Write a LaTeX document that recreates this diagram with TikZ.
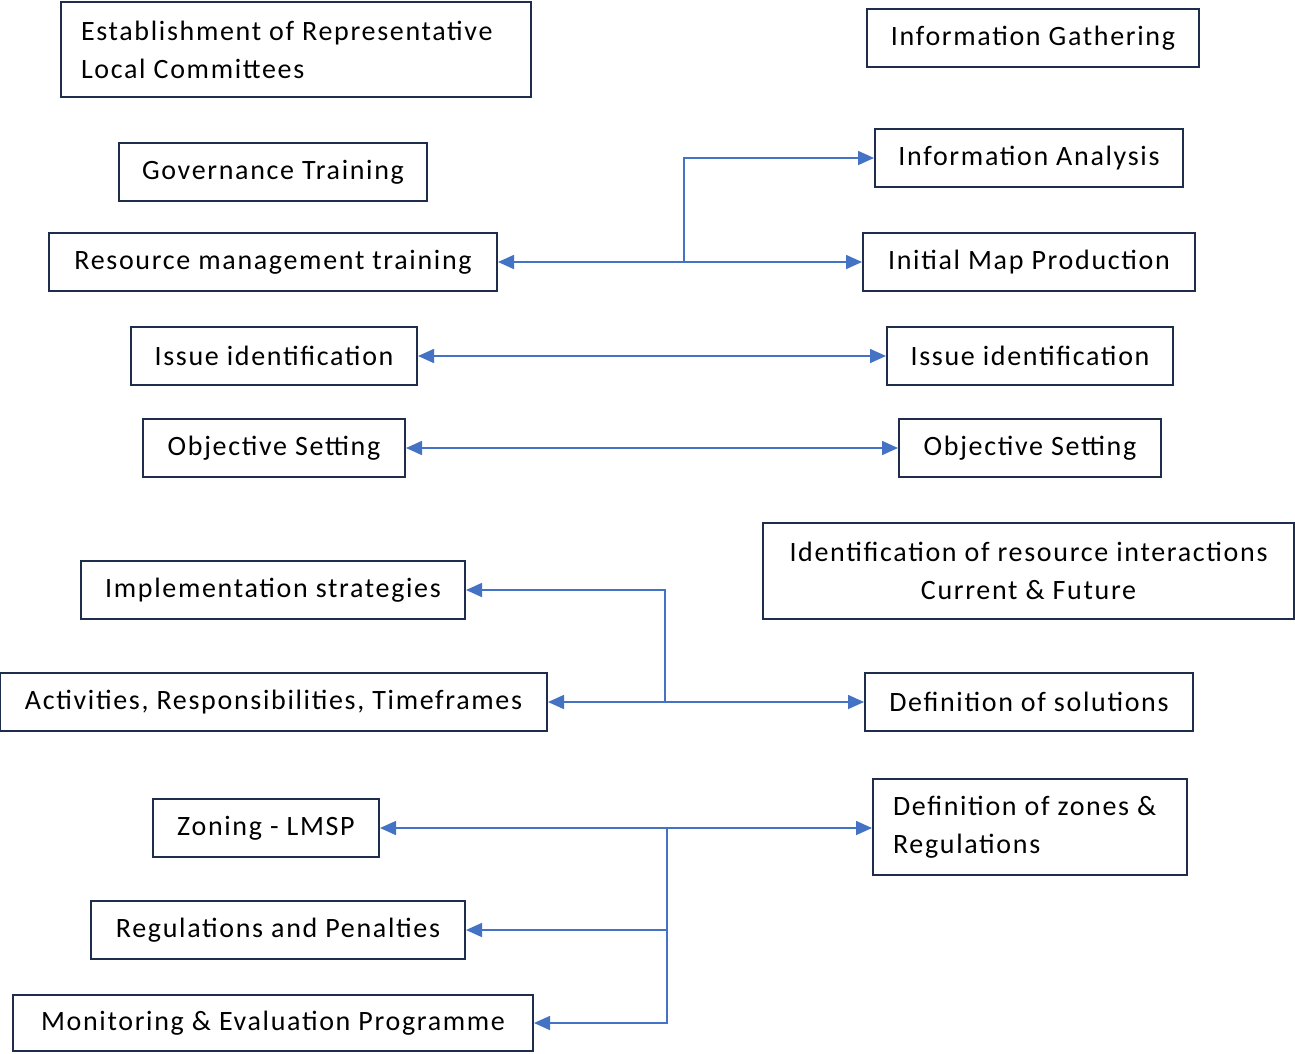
\documentclass[tikz,border=0pt]{standalone}
\usepackage{fontspec}
\setmainfont[LetterSpace=6]{Carlito}
\usetikzlibrary{arrows.meta}
\definecolor{boxline}{HTML}{1F2D4D}
\definecolor{conline}{HTML}{4472C4}
\tikzset{
  box/.style={draw=boxline, line width=2pt, fill=white, inner sep=0pt, align=center,
    font=\fontsize{28}{38}\selectfont},
  conn/.style={draw=conline, line width=1.6pt},
  tip/.style={-{Triangle[length=16pt,width=14pt]}},
  tips/.style={{Triangle[length=16pt,width=14pt]}-{Triangle[length=16pt,width=14pt]}}
}
\begin{document}
\begin{tikzpicture}[x=1pt,y=-1pt]
\useasboundingbox (0,0) rectangle (1295,1053);
\node[box, minimum width=470pt, minimum height=95pt, text width=430pt, inner xsep=20pt, align=flush left] (n1) at (296,49.5) {Establishment of Representative\\Local Committees};
\node[box, minimum width=332pt, minimum height=58pt] (n2) at (1033,38) {Information Gathering};
\node[box, minimum width=308pt, minimum height=58pt] (n3) at (273,172) {Governance Training};
\node[box, minimum width=308pt, minimum height=58pt] (n4) at (1029,158) {Information Analysis};
\node[box, minimum width=448pt, minimum height=58pt] (n5) at (273,262) {Resource management training};
\node[box, minimum width=332pt, minimum height=58pt] (n6) at (1029,262) {Initial Map Production};
\node[box, minimum width=286pt, minimum height=58pt] (n7) at (274,356) {Issue identification};
\node[box, minimum width=286pt, minimum height=58pt] (n8) at (1030,356) {Issue identification};
\node[box, minimum width=262pt, minimum height=58pt] (n9) at (274,448) {Objective Setting};
\node[box, minimum width=262pt, minimum height=58pt] (n10) at (1030,448) {Objective Setting};
\node[box, minimum width=531pt, minimum height=96pt] (n11) at (1028.5,571) {Identification of resource interactions\\Current \& Future};
\node[box, minimum width=384pt, minimum height=58pt] (n12) at (273,590) {Implementation strategies};
\node[box, minimum width=547pt, minimum height=58pt] (n13) at (273.5,702) {Activities, Responsibilities, Timeframes};
\node[box, minimum width=328pt, minimum height=58pt] (n14) at (1029,702) {Definition of solutions};
\node[box, minimum width=226pt, minimum height=58pt] (n15) at (266,828) {Zoning - LMSP};
\node[box, minimum width=314pt, minimum height=96pt, text width=274pt, inner xsep=20pt, align=flush left] (n16) at (1030,827) {Definition of zones \&\\Regulations};
\node[box, minimum width=374pt, minimum height=58pt] (n17) at (278,930) {Regulations and Penalties};
\node[box, minimum width=520pt, minimum height=56pt] (n18) at (273,1023) {Monitoring \& Evaluation Programme};

\coordinate (j1) at (684,262);
\draw[conn,tip] (j1) -- (n5.east);
\draw[conn,tip] (j1) |- (n4.west);
\draw[conn,tip] (j1) -- (n6.west);

\draw[conn,tips] (n7.east) -- (n8.west);
\draw[conn,tips] (n9.east) -- (n10.west);

\coordinate (j2) at (665,702);
\draw[conn,tip] (j2) |- (n12.east);
\draw[conn,tip] (j2) -- (n13.east);
\draw[conn,tip] (j2) -- (n14.west);

\coordinate (j3) at (667,828);
\draw[conn,tip] (j3) -- (n15.east);
\draw[conn,tip] (j3) -- (n16.west |- j3);
\draw[conn,tip] (j3) |- (n17.east);
\draw[conn,tip] (j3) |- (n18.east);
\end{tikzpicture}
\end{document}
